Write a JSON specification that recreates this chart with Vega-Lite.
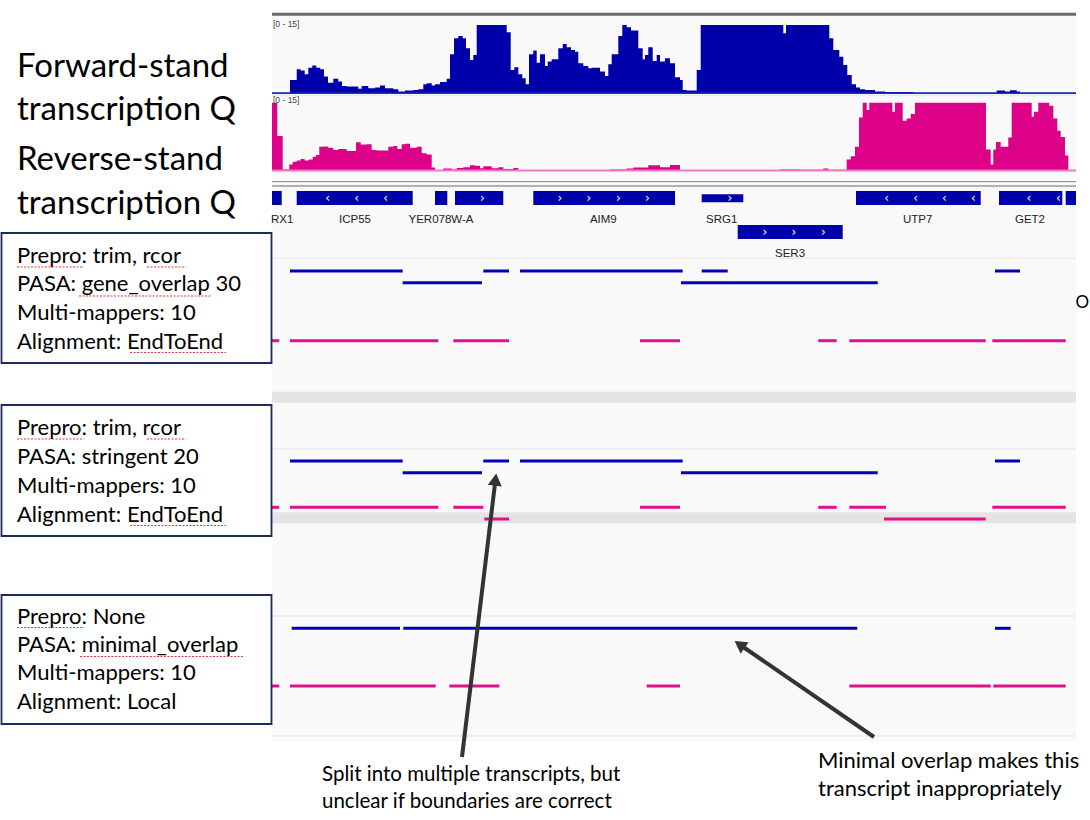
{
  "$schema": "https://vega.github.io/schema/vega-lite/v6.json",
  "description": "IGV view of forward/reverse coverage and PASA transcript models under three parameter sets",
  "width": 1090,
  "height": 820,
  "autosize": {"type": "fit", "contains": "padding"},
  "padding": 0,
  "background": "#ffffff",
  "config": {"view": {"stroke": null}, "axis": {"disable": true}, "legend": {"disable": true}},
  "resolve": {"scale": {"y": "independent"}},
  "datasets": {
    "panel": [
      {"kind": "bg", "s": 272, "e": 1076, "t": 16, "b": 741},
      {"kind": "band", "s": 272, "e": 1076, "t": 391.7, "b": 402.7},
      {"kind": "band", "s": 272, "e": 1076, "t": 512.3, "b": 523.3}
    ],
    "lines": [
      {"kind": "sep", "s": 272, "e": 1076, "y": 95.5},
      {"kind": "sep", "s": 272, "e": 1076, "y": 258.3},
      {"kind": "sep", "s": 272, "e": 1076, "y": 449},
      {"kind": "sep", "s": 272, "e": 1076, "y": 616},
      {"kind": "sep", "s": 272, "e": 1076, "y": 736},
      {"kind": "top", "s": 272, "e": 1076, "y": 14.3},
      {"kind": "double", "s": 272, "e": 1076, "y": 181.7},
      {"kind": "double", "s": 272, "e": 1076, "y": 186},
      {"kind": "fbase", "s": 272, "e": 1076, "y": 93.3},
      {"kind": "rbase", "s": 272, "e": 1076, "y": 170.6}
    ],
    "forward": [
      {"p": 272, "f": 0.2}, {"p": 290, "f": 2.9}, {"p": 296.7, "f": 5.3}, {"p": 300.7, "f": 5.0},
      {"p": 304.7, "f": 4.2}, {"p": 308.3, "f": 5.6}, {"p": 312.3, "f": 6.1}, {"p": 316.3, "f": 5.6},
      {"p": 320.3, "f": 5.3}, {"p": 324, "f": 3.7}, {"p": 328, "f": 2.3}, {"p": 333.3, "f": 3.2},
      {"p": 338.3, "f": 2.6}, {"p": 342, "f": 1.6}, {"p": 346.7, "f": 1.5}, {"p": 358.3, "f": 1.0},
      {"p": 361.7, "f": 1.6}, {"p": 368.3, "f": 1.1}, {"p": 375, "f": 1.3}, {"p": 380, "f": 1.7},
      {"p": 385, "f": 1.1}, {"p": 393.3, "f": 0.9}, {"p": 398.3, "f": 0.4}, {"p": 405, "f": 0.6},
      {"p": 413.3, "f": 0.7}, {"p": 418.3, "f": 0.9}, {"p": 423.3, "f": 2.0}, {"p": 426.7, "f": 2.2},
      {"p": 431.7, "f": 1.7}, {"p": 435, "f": 2.0}, {"p": 440, "f": 2.5}, {"p": 446.7, "f": 3.2},
      {"p": 450, "f": 8.6}, {"p": 454, "f": 12.1}, {"p": 458.3, "f": 12.6}, {"p": 462.7, "f": 12.1},
      {"p": 466, "f": 9.9}, {"p": 470, "f": 7.3}, {"p": 473.3, "f": 8.4}, {"p": 476.7, "f": 15},
      {"p": 506.7, "f": 13.4}, {"p": 510.7, "f": 5.1}, {"p": 514.3, "f": 5.7}, {"p": 518.3, "f": 4.2},
      {"p": 522.3, "f": 3.3}, {"p": 525.7, "f": 2.0}, {"p": 529, "f": 8.6}, {"p": 533.3, "f": 9.4},
      {"p": 536.7, "f": 6.7}, {"p": 540, "f": 8.6}, {"p": 545, "f": 6.0}, {"p": 547.7, "f": 7.0},
      {"p": 551.7, "f": 7.5}, {"p": 558.3, "f": 9.9}, {"p": 562.7, "f": 10.8}, {"p": 566.7, "f": 10.1},
      {"p": 571, "f": 9.5}, {"p": 575, "f": 9.1}, {"p": 578.3, "f": 6.6}, {"p": 583.3, "f": 6.0},
      {"p": 588.3, "f": 5.5}, {"p": 591.7, "f": 5.6}, {"p": 600, "f": 4.8}, {"p": 605, "f": 3.8},
      {"p": 608.3, "f": 6.4}, {"p": 611.7, "f": 8.6}, {"p": 618.3, "f": 12.6}, {"p": 622.3, "f": 15},
      {"p": 626.7, "f": 14.5}, {"p": 631, "f": 13.8}, {"p": 638.3, "f": 9.9}, {"p": 642.7, "f": 7.5},
      {"p": 645, "f": 8.4}, {"p": 648.3, "f": 10.1}, {"p": 652.7, "f": 7.1}, {"p": 656.7, "f": 8.4},
      {"p": 660, "f": 7.0}, {"p": 665, "f": 7.7}, {"p": 670, "f": 6.6}, {"p": 675, "f": 3.5},
      {"p": 680, "f": 2.9}, {"p": 682.7, "f": 0.7}, {"p": 686.7, "f": 0.6}, {"p": 696.7, "f": 5.1},
      {"p": 700.7, "f": 15}, {"p": 783.3, "f": 13.2}, {"p": 786, "f": 15}, {"p": 829.3, "f": 12.1},
      {"p": 833.3, "f": 9.5}, {"p": 839.3, "f": 8.0}, {"p": 843.3, "f": 6.2}, {"p": 847.3, "f": 4.0},
      {"p": 851.7, "f": 2.0}, {"p": 856, "f": 1.3}, {"p": 860, "f": 0.9}, {"p": 865, "f": 0.7},
      {"p": 875, "f": 0.4}, {"p": 885, "f": 0.3}, {"p": 913.3, "f": 0.15}, {"p": 996.7, "f": 0.6},
      {"p": 1005, "f": 0.4}, {"p": 1010, "f": 0.65}, {"p": 1016.7, "f": 0.4}, {"p": 1020, "f": 0.15},
      {"p": 1076, "f": 0.15}
    ],
    "reverse": [
      {"p": 272, "f": 15}, {"p": 277.3, "f": 7.6}, {"p": 282.7, "f": 0.15}, {"p": 289.3, "f": 1.3},
      {"p": 292.7, "f": 1.9}, {"p": 296.7, "f": 2.2}, {"p": 300.7, "f": 2.5}, {"p": 304.7, "f": 2.2},
      {"p": 308.7, "f": 2.4}, {"p": 312.7, "f": 3.0}, {"p": 316, "f": 3.4}, {"p": 319.3, "f": 5.2},
      {"p": 323.3, "f": 5.3}, {"p": 328.3, "f": 5.0}, {"p": 333.3, "f": 4.5}, {"p": 338.3, "f": 4.7},
      {"p": 346.7, "f": 4.3}, {"p": 356, "f": 6.2}, {"p": 360.7, "f": 5.7}, {"p": 366.7, "f": 5.8},
      {"p": 371.7, "f": 4.5}, {"p": 376.7, "f": 4.4}, {"p": 388.3, "f": 5.2}, {"p": 393.3, "f": 5.4},
      {"p": 397.3, "f": 4.7}, {"p": 401.7, "f": 5.8}, {"p": 405, "f": 5.9}, {"p": 410, "f": 5.0},
      {"p": 416.7, "f": 5.2}, {"p": 421.7, "f": 3.8}, {"p": 426.7, "f": 3.5}, {"p": 431.7, "f": 0.6},
      {"p": 435, "f": 0}, {"p": 443.3, "f": 0.4}, {"p": 451.7, "f": 0.2}, {"p": 456.7, "f": 0.5},
      {"p": 463.3, "f": 0.7}, {"p": 470, "f": 1.1}, {"p": 475, "f": 1.0}, {"p": 480, "f": 0.45},
      {"p": 483.3, "f": 0.9}, {"p": 491.7, "f": 0.45}, {"p": 498.3, "f": 0.7}, {"p": 503.3, "f": 0.3},
      {"p": 513.3, "f": 0.5}, {"p": 518.3, "f": 0}, {"p": 610, "f": 0.15}, {"p": 626.7, "f": 0.4},
      {"p": 633.3, "f": 0.6}, {"p": 648.3, "f": 1.1}, {"p": 660, "f": 0.7}, {"p": 670, "f": 1.2},
      {"p": 680, "f": 0}, {"p": 780, "f": 0.15}, {"p": 800, "f": 0.1}, {"p": 823.3, "f": 0.4},
      {"p": 828.3, "f": 0.1}, {"p": 846.7, "f": 2.4}, {"p": 850.7, "f": 3.1}, {"p": 855, "f": 5.2},
      {"p": 859, "f": 11.7}, {"p": 862.7, "f": 15}, {"p": 866.7, "f": 13.4}, {"p": 869.3, "f": 15},
      {"p": 892.3, "f": 13}, {"p": 895, "f": 15}, {"p": 902.7, "f": 11}, {"p": 906.7, "f": 11.5},
      {"p": 910.7, "f": 12.5}, {"p": 915, "f": 15}, {"p": 986, "f": 4.6}, {"p": 990.7, "f": 1.3},
      {"p": 993.3, "f": 4.6}, {"p": 996, "f": 6.3}, {"p": 1000.7, "f": 5.2}, {"p": 1008.3, "f": 7.3},
      {"p": 1011.7, "f": 15}, {"p": 1031.7, "f": 11.9}, {"p": 1034, "f": 13}, {"p": 1038.3, "f": 15},
      {"p": 1049.3, "f": 14.3}, {"p": 1053.3, "f": 11.5}, {"p": 1057.3, "f": 8.8}, {"p": 1060.7, "f": 7.4},
      {"p": 1065, "f": 3.3}, {"p": 1068.3, "f": 0}, {"p": 1076, "f": 0}
    ],
    "genes": [
      {"g": "RX1", "s": 272, "e": 281.7, "t": 191, "b": 205},
      {"g": "ICP55", "s": 296.7, "e": 412.7, "t": 191, "b": 205},
      {"g": "YER078W-A", "s": 435, "e": 447.3, "t": 191, "b": 205},
      {"g": "YER078W-A", "s": 455, "e": 503.3, "t": 191, "b": 205},
      {"g": "AIM9", "s": 533.3, "e": 675, "t": 191, "b": 205},
      {"g": "SRG1", "s": 701.7, "e": 743.3, "t": 194.3, "b": 202.3},
      {"g": "SER3", "s": 737.7, "e": 842.7, "t": 225, "b": 239},
      {"g": "UTP7", "s": 856, "e": 980.7, "t": 191, "b": 205},
      {"g": "GET2", "s": 999, "e": 1062.3, "t": 191, "b": 205},
      {"g": "next", "s": 1065.7, "e": 1076, "t": 191, "b": 205}
    ],
    "chevrons": [
      {"c": "‹", "x": 327.7, "y": 198}, {"c": "‹", "x": 356.7, "y": 198}, {"c": "‹", "x": 385.7, "y": 198},
      {"c": "›", "x": 482.3, "y": 198},
      {"c": "›", "x": 560, "y": 198}, {"c": "›", "x": 589, "y": 198}, {"c": "›", "x": 618.3, "y": 198}, {"c": "›", "x": 647.3, "y": 198},
      {"c": "›", "x": 730, "y": 198},
      {"c": "›", "x": 765, "y": 232}, {"c": "›", "x": 794, "y": 232}, {"c": "›", "x": 823.3, "y": 232},
      {"c": "‹", "x": 886.7, "y": 198}, {"c": "‹", "x": 915.7, "y": 198}, {"c": "‹", "x": 944.3, "y": 198}, {"c": "‹", "x": 973.3, "y": 198},
      {"c": "‹", "x": 1029, "y": 198}, {"c": "‹", "x": 1058.3, "y": 198}
    ],
    "geneLabels": [
      {"t": "ICP55", "x": 355, "y": 223},
      {"t": "YER078W-A", "x": 441, "y": 223},
      {"t": "AIM9", "x": 603.3, "y": 223},
      {"t": "SRG1", "x": 721.7, "y": 223},
      {"t": "SER3", "x": 790, "y": 256.5},
      {"t": "UTP7", "x": 917.7, "y": 223},
      {"t": "GET2", "x": 1030, "y": 223}
    ],
    "leftLabels": [
      {"t": "RX1", "x": 271, "y": 223, "kind": "gene"},
      {"t": "[0 - 15]", "x": 273, "y": 26.5, "kind": "range"},
      {"t": "[0 - 15]", "x": 273, "y": 103.3, "kind": "range"}
    ],
    "transcripts": [
      {"s": 290, "e": 402.7, "y": 271, "st": "+"},
      {"s": 483.3, "e": 509, "y": 271, "st": "+"},
      {"s": 520, "e": 682.7, "y": 271, "st": "+"},
      {"s": 701.7, "e": 727.7, "y": 271, "st": "+"},
      {"s": 995, "e": 1020, "y": 271, "st": "+"},
      {"s": 402.7, "e": 482, "y": 282.7, "st": "+"},
      {"s": 681, "e": 877.7, "y": 282.7, "st": "+"},
      {"s": 272, "e": 279.3, "y": 340.7, "st": "-"},
      {"s": 290, "e": 438.3, "y": 340.7, "st": "-"},
      {"s": 453.3, "e": 509, "y": 340.7, "st": "-"},
      {"s": 640, "e": 680, "y": 340.7, "st": "-"},
      {"s": 818.3, "e": 836.7, "y": 340.7, "st": "-"},
      {"s": 849.3, "e": 985.7, "y": 340.7, "st": "-"},
      {"s": 992.3, "e": 1065.7, "y": 340.7, "st": "-"},
      {"s": 290, "e": 402.7, "y": 461, "st": "+"},
      {"s": 483.3, "e": 509, "y": 461, "st": "+"},
      {"s": 520, "e": 682.7, "y": 461, "st": "+"},
      {"s": 995, "e": 1020, "y": 461, "st": "+"},
      {"s": 402.7, "e": 482, "y": 472.7, "st": "+"},
      {"s": 681, "e": 877.7, "y": 472.7, "st": "+"},
      {"s": 272, "e": 279.3, "y": 507.3, "st": "-"},
      {"s": 290, "e": 438.3, "y": 507.3, "st": "-"},
      {"s": 453.3, "e": 483.3, "y": 507.3, "st": "-"},
      {"s": 640, "e": 680, "y": 507.3, "st": "-"},
      {"s": 818.3, "e": 836.7, "y": 507.3, "st": "-"},
      {"s": 849.3, "e": 886, "y": 507.3, "st": "-"},
      {"s": 992.3, "e": 1065.7, "y": 507.3, "st": "-"},
      {"s": 484.3, "e": 509, "y": 519, "st": "-"},
      {"s": 884, "e": 985.7, "y": 519, "st": "-"},
      {"s": 291.7, "e": 400, "y": 628.3, "st": "+"},
      {"s": 403.3, "e": 857.3, "y": 628.3, "st": "+"},
      {"s": 995, "e": 1010.7, "y": 628.3, "st": "+"},
      {"s": 272, "e": 279.3, "y": 686, "st": "-"},
      {"s": 290, "e": 435.7, "y": 686, "st": "-"},
      {"s": 449.3, "e": 499.3, "y": 686, "st": "-"},
      {"s": 646.7, "e": 680, "y": 686, "st": "-"},
      {"s": 849.3, "e": 990.7, "y": 686, "st": "-"},
      {"s": 993.3, "e": 1065.7, "y": 686, "st": "-"}
    ],
    "boxes": [
      {"s": 1.5, "e": 271.5, "t": 233, "b": 363},
      {"s": 1.5, "e": 271.5, "t": 405, "b": 536},
      {"s": 1.5, "e": 271.5, "t": 595, "b": 724}
    ],
    "boxText": [
      {"t": "Prepro: trim, rcor", "x": 17, "y": 263},
      {"t": "PASA: gene_overlap 30", "x": 17, "y": 291},
      {"t": "Multi-mappers: 10", "x": 17, "y": 319.5},
      {"t": "Alignment: EndToEnd", "x": 17, "y": 348.5},
      {"t": "Prepro: trim, rcor", "x": 17, "y": 435},
      {"t": "PASA: stringent 20", "x": 17, "y": 463.5},
      {"t": "Multi-mappers: 10", "x": 17, "y": 492.5},
      {"t": "Alignment: EndToEnd", "x": 17, "y": 521.5},
      {"t": "Prepro: None", "x": 17, "y": 623.5},
      {"t": "PASA: minimal_overlap", "x": 17, "y": 652},
      {"t": "Multi-mappers: 10", "x": 17, "y": 680},
      {"t": "Alignment: Local", "x": 17, "y": 709}
    ],
    "squiggles": [
      {"s": 17, "e": 84, "y": 267},
      {"s": 147, "e": 186, "y": 267},
      {"s": 79, "e": 212, "y": 296},
      {"s": 130, "e": 226, "y": 352.5},
      {"s": 17, "e": 84, "y": 439},
      {"s": 147, "e": 186, "y": 439},
      {"s": 130, "e": 226, "y": 525.5},
      {"s": 17, "e": 84, "y": 627.5},
      {"s": 80, "e": 243, "y": 656.5}
    ],
    "bigText": [
      {"t": "Forward-stand", "x": 17, "y": 77},
      {"t": "transcription Q", "x": 17, "y": 120},
      {"t": "Reverse-stand", "x": 17, "y": 170},
      {"t": "transcription Q", "x": 17, "y": 214}
    ],
    "arrows": [
      {"x0": 462, "y0": 757, "x1": 495.5, "y1": 479.6, "deg": 6.9},
      {"x0": 874, "y0": 737, "x1": 739.6, "y1": 644.5, "deg": 304.5}
    ],
    "notes": [
      {"t": "Split into multiple transcripts, but", "x": 322, "y": 781, "side": "left"},
      {"t": "unclear if boundaries are correct", "x": 322, "y": 808, "side": "left"},
      {"t": "Minimal overlap makes this", "x": 818, "y": 768, "side": "right"},
      {"t": "transcript inappropriately", "x": 818, "y": 796, "side": "right"}
    ],
    "edge": [
      {"t": "O", "x": 1089, "y": 308}
    ]
  },
  "layer": [
    {
      "data": {"name": "panel"},
      "encoding": {
        "x": {"field": "s", "type": "quantitative", "scale": {"domain": [0, 1090], "nice": false, "zero": false}},
        "x2": {"field": "e"},
        "y": {"field": "t", "type": "quantitative", "scale": {"domain": [0, 820], "reverse": true, "nice": false, "zero": false}},
        "y2": {"field": "b"}
      },
      "layer": [
        {"transform": [{"filter": "datum.kind == 'bg'"}], "mark": {"type": "rect", "color": "#f9f9f9"}},
        {"transform": [{"filter": "datum.kind == 'band'"}], "mark": {"type": "rect", "color": "#e4e4e4"}}
      ]
    },
    {
      "data": {"name": "forward"},
      "mark": {"type": "area", "interpolate": "step-after", "color": "#0000aa", "opacity": 1},
      "encoding": {
        "x": {"field": "p", "type": "quantitative", "scale": {"domain": [0, 1090], "nice": false, "zero": false}},
        "y": {"field": "f", "type": "quantitative", "scale": {"domain": [0, 15], "range": [93.3, 25], "nice": false}}
      }
    },
    {
      "data": {"name": "reverse"},
      "mark": {"type": "area", "interpolate": "step-after", "color": "#dd0088", "opacity": 1},
      "encoding": {
        "x": {"field": "p", "type": "quantitative", "scale": {"domain": [0, 1090], "nice": false, "zero": false}},
        "y": {"field": "f", "type": "quantitative", "scale": {"domain": [0, 15], "range": [170.3, 102.7], "nice": false}}
      }
    },
    {
      "encoding": {
        "x": {"field": "s", "type": "quantitative", "scale": {"domain": [0, 1090], "nice": false, "zero": false}},
        "y": {"field": "y", "type": "quantitative", "scale": {"domain": [0, 820], "reverse": true, "nice": false, "zero": false}}
      },
      "layer": [
        {
          "data": {"name": "lines"},
          "transform": [{"filter": "datum.kind == 'sep'"}],
          "mark": {"type": "rule", "color": "#ebebeb", "strokeWidth": 1.5},
          "encoding": {"x2": {"field": "e"}}
        },
        {
          "data": {"name": "lines"},
          "transform": [{"filter": "datum.kind == 'top'"}],
          "mark": {"type": "rule", "color": "#6a6a6a", "strokeWidth": 3},
          "encoding": {"x2": {"field": "e"}}
        },
        {
          "data": {"name": "lines"},
          "transform": [{"filter": "datum.kind == 'double'"}],
          "mark": {"type": "rule", "color": "#999999", "strokeWidth": 1.3},
          "encoding": {"x2": {"field": "e"}}
        },
        {
          "data": {"name": "lines"},
          "transform": [{"filter": "datum.kind == 'fbase'"}],
          "mark": {"type": "rule", "color": "#2a2ab8", "strokeWidth": 1.5},
          "encoding": {"x2": {"field": "e"}}
        },
        {
          "data": {"name": "lines"},
          "transform": [{"filter": "datum.kind == 'rbase'"}],
          "mark": {"type": "rule", "color": "#f07ac4", "strokeWidth": 2},
          "encoding": {"x2": {"field": "e"}}
        },
        {
          "data": {"name": "genes"},
          "mark": {"type": "rect", "color": "#0000aa"},
          "encoding": {
            "x2": {"field": "e"},
            "y": {"field": "t", "type": "quantitative", "scale": {"domain": [0, 820], "reverse": true, "nice": false, "zero": false}},
            "y2": {"field": "b"}
          }
        },
        {
          "data": {"name": "chevrons"},
          "mark": {"type": "text", "color": "#ffffff", "font": "DejaVu Sans", "fontSize": 12, "align": "center", "baseline": "middle"},
          "encoding": {
            "x": {"field": "x", "type": "quantitative", "scale": {"domain": [0, 1090], "nice": false, "zero": false}},
            "text": {"field": "c"}
          }
        },
        {
          "data": {"name": "geneLabels"},
          "mark": {"type": "text", "color": "#222222", "font": "Liberation Sans", "fontSize": 11.5, "align": "center", "baseline": "alphabetic"},
          "encoding": {
            "x": {"field": "x", "type": "quantitative", "scale": {"domain": [0, 1090], "nice": false, "zero": false}},
            "text": {"field": "t"}
          }
        },
        {
          "data": {"name": "leftLabels"},
          "transform": [{"filter": "datum.kind == 'gene'"}],
          "mark": {"type": "text", "color": "#222222", "font": "Liberation Sans", "fontSize": 11.5, "align": "left", "baseline": "alphabetic"},
          "encoding": {
            "x": {"field": "x", "type": "quantitative", "scale": {"domain": [0, 1090], "nice": false, "zero": false}},
            "text": {"field": "t"}
          }
        },
        {
          "data": {"name": "leftLabels"},
          "transform": [{"filter": "datum.kind == 'range'"}],
          "mark": {"type": "text", "color": "#444444", "font": "Liberation Sans", "fontSize": 8.5, "align": "left", "baseline": "alphabetic"},
          "encoding": {
            "x": {"field": "x", "type": "quantitative", "scale": {"domain": [0, 1090], "nice": false, "zero": false}},
            "text": {"field": "t"}
          }
        },
        {
          "data": {"name": "transcripts"},
          "transform": [{"filter": "datum.st == '+'"}],
          "mark": {"type": "rule", "strokeWidth": 3, "color": "#0000b0"},
          "encoding": {"x2": {"field": "e"}}
        },
        {
          "data": {"name": "transcripts"},
          "transform": [{"filter": "datum.st == '-'"}],
          "mark": {"type": "rule", "strokeWidth": 3, "color": "#e0108c"},
          "encoding": {"x2": {"field": "e"}}
        },
        {
          "data": {"name": "boxes"},
          "mark": {"type": "rect", "fill": "#ffffff", "stroke": "#1c2b5a", "strokeWidth": 1.8},
          "encoding": {
            "x2": {"field": "e"},
            "y": {"field": "t", "type": "quantitative", "scale": {"domain": [0, 820], "reverse": true, "nice": false, "zero": false}},
            "y2": {"field": "b"}
          }
        },
        {
          "data": {"name": "boxText"},
          "mark": {"type": "text", "color": "#000000", "font": "Lato", "fontSize": 22, "align": "left", "baseline": "alphabetic"},
          "encoding": {
            "x": {"field": "x", "type": "quantitative", "scale": {"domain": [0, 1090], "nice": false, "zero": false}},
            "text": {"field": "t"}
          }
        },
        {
          "data": {"name": "squiggles"},
          "mark": {"type": "rule", "color": "#e0383c", "strokeWidth": 1.2, "strokeDash": [2, 1.5]},
          "encoding": {"x2": {"field": "e"}}
        },
        {
          "data": {"name": "bigText"},
          "mark": {"type": "text", "color": "#000000", "font": "Lato", "fontSize": 33, "align": "left", "baseline": "alphabetic"},
          "encoding": {
            "x": {"field": "x", "type": "quantitative", "scale": {"domain": [0, 1090], "nice": false, "zero": false}},
            "text": {"field": "t"}
          }
        },
        {
          "data": {"name": "arrows"},
          "mark": {"type": "rule", "color": "#333333", "strokeWidth": 4},
          "encoding": {
            "x": {"field": "x0", "type": "quantitative", "scale": {"domain": [0, 1090], "nice": false, "zero": false}},
            "y": {"field": "y0", "type": "quantitative", "scale": {"domain": [0, 820], "reverse": true, "nice": false, "zero": false}},
            "x2": {"field": "x1"},
            "y2": {"field": "y1"}
          }
        },
        {
          "data": {"name": "arrows"},
          "mark": {"type": "point", "shape": "triangle-up", "filled": true, "size": 196, "color": "#333333", "opacity": 1},
          "encoding": {
            "x": {"field": "x1", "type": "quantitative", "scale": {"domain": [0, 1090], "nice": false, "zero": false}},
            "y": {"field": "y1", "type": "quantitative", "scale": {"domain": [0, 820], "reverse": true, "nice": false, "zero": false}},
            "angle": {"field": "deg", "type": "quantitative", "scale": null}
          }
        },
        {
          "data": {"name": "notes"},
          "transform": [{"filter": "datum.side == 'left'"}],
          "mark": {"type": "text", "color": "#000000", "font": "Lato", "fontSize": 20.5, "align": "left", "baseline": "alphabetic"},
          "encoding": {
            "x": {"field": "x", "type": "quantitative", "scale": {"domain": [0, 1090], "nice": false, "zero": false}},
            "text": {"field": "t"}
          }
        },
        {
          "data": {"name": "notes"},
          "transform": [{"filter": "datum.side == 'right'"}],
          "mark": {"type": "text", "color": "#000000", "font": "Lato", "fontSize": 22, "align": "left", "baseline": "alphabetic"},
          "encoding": {
            "x": {"field": "x", "type": "quantitative", "scale": {"domain": [0, 1090], "nice": false, "zero": false}},
            "text": {"field": "t"}
          }
        },
        {
          "data": {"name": "edge"},
          "mark": {"type": "text", "color": "#000000", "font": "Lato", "fontSize": 17, "align": "right", "baseline": "alphabetic"},
          "encoding": {
            "x": {"field": "x", "type": "quantitative", "scale": {"domain": [0, 1090], "nice": false, "zero": false}},
            "text": {"field": "t"}
          }
        }
      ]
    }
  ]
}
